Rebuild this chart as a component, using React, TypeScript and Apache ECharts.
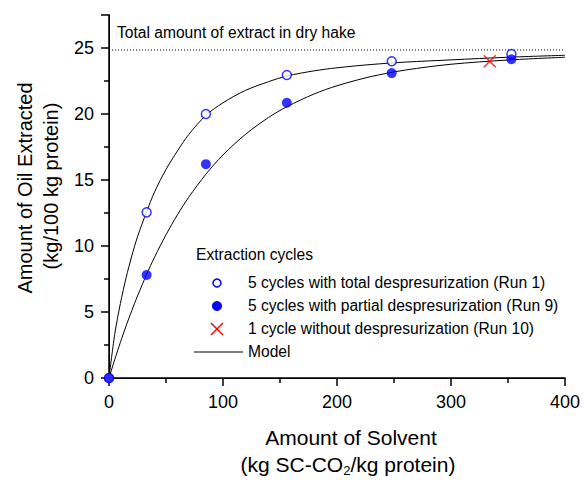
import React, { useEffect, useRef } from "react";
import * as echarts from "echarts";

// Experimental data (x: kg SC-CO2/kg protein, y: kg/100 kg protein)
const run1X = [0, 33, 85, 156, 248, 353];
const run1Y = [0, 12.55, 20.0, 22.95, 24.0, 24.55];
const run9X = [0, 33, 85, 156, 248, 353];
const run9Y = [0, 7.8, 16.2, 20.85, 23.1, 24.15];
const run10X = [334];
const run10Y = [24.0];

// Model curves
const modelX = [0, 5, 10, 15, 20, 25, 33, 40, 50, 60, 70, 85, 100, 120, 140, 156, 180, 200, 230, 260, 300, 350, 400];
const model1Y = [0, 3.3, 5.65, 7.6, 9.25, 10.7, 12.6, 14.1, 15.8, 17.2, 18.45, 19.9, 20.85, 21.8, 22.45, 22.88, 23.27, 23.5, 23.75, 23.93, 24.1, 24.3, 24.45];
const model2Y = [0, 1.39, 2.7, 3.95, 5.11, 6.21, 7.85, 9.16, 10.85, 12.36, 13.7, 15.44, 16.9, 18.48, 19.74, 20.55, 21.52, 22.14, 22.84, 23.33, 23.77, 24.09, 24.3];

const totalExtract = 24.85;
const xTicks = [0, 100, 200, 300, 400];
const yTicks = [0, 5, 10, 15, 20, 25];
const yMax = 27.5;

const FONT = "Liberation Sans, Arial, sans-serif";
const BLUE = "#0000ff";

function zip(xs: number[], ys: number[]) {
  return xs.map((x, i) => [x, ys[i]]);
}

export default function App() {
  const ref = useRef<HTMLDivElement>(null);
  useEffect(() => {
    if (!ref.current) return;
    const chart = echarts.init(ref.current, null, { renderer: "svg" });
    const legendX = 217;
    const rows = [283, 306, 329, 352];
    const xMin = xTicks[0];
    const xMax = xTicks[xTicks.length - 1];
    const frameAxis = {
      axisLine: { show: true, lineStyle: { color: "#000", width: 1 } },
      axisTick: { show: false },
      minorTick: { show: false },
      axisLabel: { show: false },
      splitLine: { show: false },
    };
    chart.setOption({
      animation: false,
      backgroundColor: "#fff",
      textStyle: { fontFamily: FONT },
      grid: { left: 109, right: 19, top: 15, bottom: 102 },
      xAxis: [
        {
          type: "value",
          min: xMin,
          max: xMax,
          interval: 100,
          axisLine: { show: true, onZero: false, lineStyle: { color: "#000", width: 1.5 } },
          axisTick: { show: true, length: 8, lineStyle: { color: "#000", width: 1.5 } },
          minorTick: { show: true, splitNumber: 2, length: 5, lineStyle: { color: "#000", width: 1.5 } },
          splitLine: { show: false },
          axisLabel: { show: true, color: "#000", fontSize: 18, margin: 15, fontFamily: FONT },
        },
        { type: "value", min: xMin, max: xMax, position: "top", ...frameAxis },
      ],
      yAxis: [
        {
          type: "value",
          min: 0,
          max: yMax,
          interval: 5,
          axisLine: { show: true, onZero: false, lineStyle: { color: "#000", width: 1.5 } },
          axisTick: { show: true, length: 8, lineStyle: { color: "#000", width: 1.5 } },
          minorTick: { show: true, splitNumber: 2, length: 5, lineStyle: { color: "#000", width: 1.5 } },
          splitLine: { show: false },
          axisLabel: {
            show: true,
            color: "#000",
            fontSize: 18,
            margin: 15,
            fontFamily: FONT,
            formatter: (v: number) => (yTicks.includes(v) ? String(v) : ""),
          },
        },
        { type: "value", min: 0, max: yMax, position: "right", ...frameAxis },
      ],
      series: [
        {
          name: "Total",
          type: "line",
          data: [[xMin, totalExtract], [xMax, totalExtract]],
          symbol: "none",
          lineStyle: { color: "#000", width: 1, type: [1, 2] },
          z: 1,
        },
        {
          name: "Model 1",
          type: "line",
          data: zip(modelX, model1Y),
          smooth: 0.3,
          symbol: "none",
          lineStyle: { color: "#000", width: 1 },
          z: 2,
        },
        {
          name: "Model 2",
          type: "line",
          data: zip(modelX, model2Y),
          smooth: 0.3,
          symbol: "none",
          lineStyle: { color: "#000", width: 1 },
          z: 2,
        },
        {
          name: "Run 1",
          type: "scatter",
          data: zip(run1X, run1Y),
          symbol: "circle",
          symbolSize: 9,
          clip: false,
          itemStyle: { color: "#fff", borderColor: BLUE, borderWidth: 1.5 },
          z: 3,
        },
        {
          name: "Run 9",
          type: "scatter",
          data: zip(run9X, run9Y),
          symbol: "circle",
          symbolSize: 10,
          clip: false,
          itemStyle: { color: BLUE },
          z: 4,
        },
        {
          name: "Run 10",
          type: "scatter",
          data: zip(run10X, run10Y),
          symbol: "path://M0,0L10,10M10,0L0,10",
          symbolSize: 12,
          clip: false,
          itemStyle: { color: "none", borderColor: "#ff0000", borderWidth: 1.5 },
          z: 4,
        },
      ],
      graphic: [
        {
          type: "text",
          left: 117,
          top: 24,
          style: { text: "Total amount of extract in dry hake", font: `15.6px ${FONT}`, fill: "#000" },
        },
        {
          type: "text",
          left: 196,
          top: 246,
          style: { text: "Extraction cycles", font: `15.6px ${FONT}`, fill: "#000" },
        },
        {
          type: "circle",
          shape: { cx: legendX, cy: rows[0], r: 4 },
          style: { fill: "#fff", stroke: BLUE, lineWidth: 1.5 },
        },
        {
          type: "circle",
          shape: { cx: legendX, cy: rows[1], r: 5 },
          style: { fill: BLUE },
        },
        {
          type: "line",
          shape: { x1: legendX - 6, y1: rows[2] - 6, x2: legendX + 6, y2: rows[2] + 6 },
          style: { stroke: "#ff0000", lineWidth: 1.5 },
        },
        {
          type: "line",
          shape: { x1: legendX - 6, y1: rows[2] + 6, x2: legendX + 6, y2: rows[2] - 6 },
          style: { stroke: "#ff0000", lineWidth: 1.5 },
        },
        {
          type: "line",
          shape: { x1: 194, y1: rows[3], x2: 243, y2: rows[3] },
          style: { stroke: "#000", lineWidth: 1 },
        },
        ...[
          "5 cycles with total despresurization (Run 1)",
          "5 cycles with partial despresurization (Run 9)",
          "1 cycle without despresurization (Run 10)",
          "Model",
        ].map((t, i) => ({
          type: "text",
          left: 248,
          top: rows[i] - 9,
          style: { text: t, font: `15.6px ${FONT}`, fill: "#000" },
        })),
        {
          type: "text",
          x: 351,
          y: 437,
          style: {
            text: "Amount of Solvent",
            font: `21px ${FONT}`,
            fill: "#000",
            align: "center",
            verticalAlign: "middle",
          },
        },
        {
          type: "text",
          x: 348,
          y: 464,
          style: {
            text: "(kg SC-CO{sub|2}/kg protein)",
            font: `21px ${FONT}`,
            fill: "#000",
            align: "center",
            verticalAlign: "middle",
            rich: {
              sub: { fontSize: 13, fontFamily: FONT, padding: [12, 0, 0, 0], fill: "#000" },
            },
          },
        },
        {
          type: "text",
          x: 25,
          y: 188,
          rotation: Math.PI / 2,
          style: {
            text: "Amount of Oil Extracted",
            font: `20px ${FONT}`,
            fill: "#000",
            align: "center",
            verticalAlign: "middle",
          },
        },
        {
          type: "text",
          x: 51,
          y: 186,
          rotation: Math.PI / 2,
          style: {
            text: "(kg/100 kg protein)",
            font: `20px ${FONT}`,
            fill: "#000",
            align: "center",
            verticalAlign: "middle",
          },
        },
      ],
    });
    return () => chart.dispose();
  }, []);
  return <div ref={ref} style={{ width: 584, height: 480, position: "absolute", left: 0, top: 0 }} />;
}
